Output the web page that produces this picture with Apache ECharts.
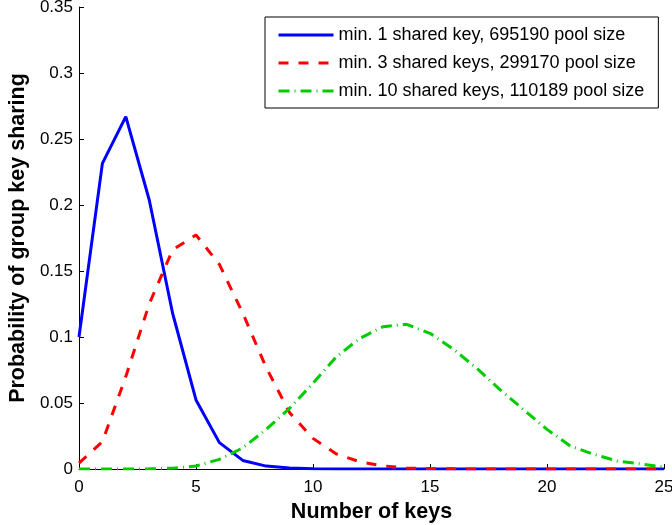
<!DOCTYPE html>
<html>
<head>
<meta charset="utf-8">
<script src="https://cdn.jsdelivr.net/npm/echarts@6/dist/echarts.min.js"></script>
<style>
html,body{margin:0;padding:0;background:#fff;}
#c{width:672px;height:525px;}
</style>
</head>
<body>
<div id="c"></div>
<script>
var keys = [0,1,2,3,4,5,6,7,8,9,10,11,12,13,14,15,16,17,18,19,20,21,22,23,24,25];
var seriesNames = [
  'min. 1 shared key, 695190 pool size',
  'min. 3 shared keys, 299170 pool size',
  'min. 10 shared keys, 110189 pool size'
];
var minOneKey = [0.100,0.2315,0.267,0.204,0.118,0.0523,0.020,0.0065,0.0022,0.0007,0.0002,0.00005,0,0,0,0,0,0,0,0,0,0,0,0,0,0];
var minThreeKeys = [0.0044,0.0207,0.070,0.125,0.166,0.1773,0.155,0.118,0.0768,0.0427,0.0232,0.0114,0.0055,0.0023,0.0008,0.0003,0.0001,0,0,0,0,0,0,0,0,0];
var minTenKeys = [0,0,0.00003,0.0001,0.0006,0.0023,0.0073,0.016,0.030,0.046,0.065,0.085,0.099,0.1078,0.1096,0.1028,0.0907,0.0763,0.060,0.045,0.030,0.0174,0.0111,0.0061,0.0038,0.0015];

function pairs(ys){ return keys.map(function(k,i){ return [k, ys[i]]; }); }

var font = 'Liberation Sans, Arial, Helvetica, sans-serif';
var chart = echarts.init(document.getElementById('c'), null, {renderer:'canvas'});
chart.setOption({
  animation: false,
  backgroundColor: '#fff',
  textStyle: {fontFamily: font},
  grid: {left: 79, right: 8, top: 7, bottom: 56, containLabel: false, outerBoundsMode: 'none'},
  legend: {
    orient: 'vertical',
    left: 265, top: 17,
    padding: [9, 14, 8, 12],
    borderColor: '#000', borderWidth: 1,
    backgroundColor: '#fff',
    itemWidth: 55, itemHeight: 14, itemGap: 10,
    itemStyle: {opacity: 0},
    lineStyle: {width: 3},
    textStyle: {fontFamily: font, fontSize: 18, color: '#000'},
    data: seriesNames
  },
  xAxis: {
    type: 'value', min: 0, max: 25, interval: 5,
    name: 'Number of keys', nameLocation: 'middle', nameGap: 28,
    nameTextStyle: {fontFamily: font, fontSize: 21.5, fontWeight: 'bold', color: '#000'},
    axisLine: {show: true, onZero: false, lineStyle: {color: '#000', width: 1}},
    axisTick: {show: true, inside: true, length: 5, lineStyle: {color: '#000'}},
    axisLabel: {fontFamily: font, fontSize: 17, color: '#000', margin: 10},
    splitLine: {show: false}
  },
  yAxis: {
    type: 'value', min: 0, max: 0.35, interval: 0.05,
    name: 'Probability of group key sharing', nameLocation: 'middle', nameGap: 50,
    nameTextStyle: {fontFamily: font, fontSize: 21.5, fontWeight: 'bold', color: '#000'},
    axisLine: {show: true, lineStyle: {color: '#000', width: 1}},
    axisTick: {show: true, inside: true, length: 5, lineStyle: {color: '#000'}},
    axisLabel: {fontFamily: font, fontSize: 17, color: '#000', margin: 6},
    splitLine: {show: false}
  },
  series: [
    {name: seriesNames[0], type: 'line', data: pairs(minOneKey), symbol: 'none', showSymbol: false,
     lineStyle: {color: '#0000ff', width: 3, type: 'solid'}, itemStyle: {color: '#0000ff'}},
    {name: seriesNames[1], type: 'line', data: pairs(minThreeKeys), symbol: 'none', showSymbol: false,
     lineStyle: {color: '#ff0000', width: 3, type: [10, 10]}, itemStyle: {color: '#ff0000'}},
    {name: seriesNames[2], type: 'line', data: pairs(minTenKeys), symbol: 'none', showSymbol: false,
     lineStyle: {color: '#00cc00', width: 3, type: [11, 5, 1, 5]}, itemStyle: {color: '#00cc00'}}
  ]
});
</script>
</body>
</html>
